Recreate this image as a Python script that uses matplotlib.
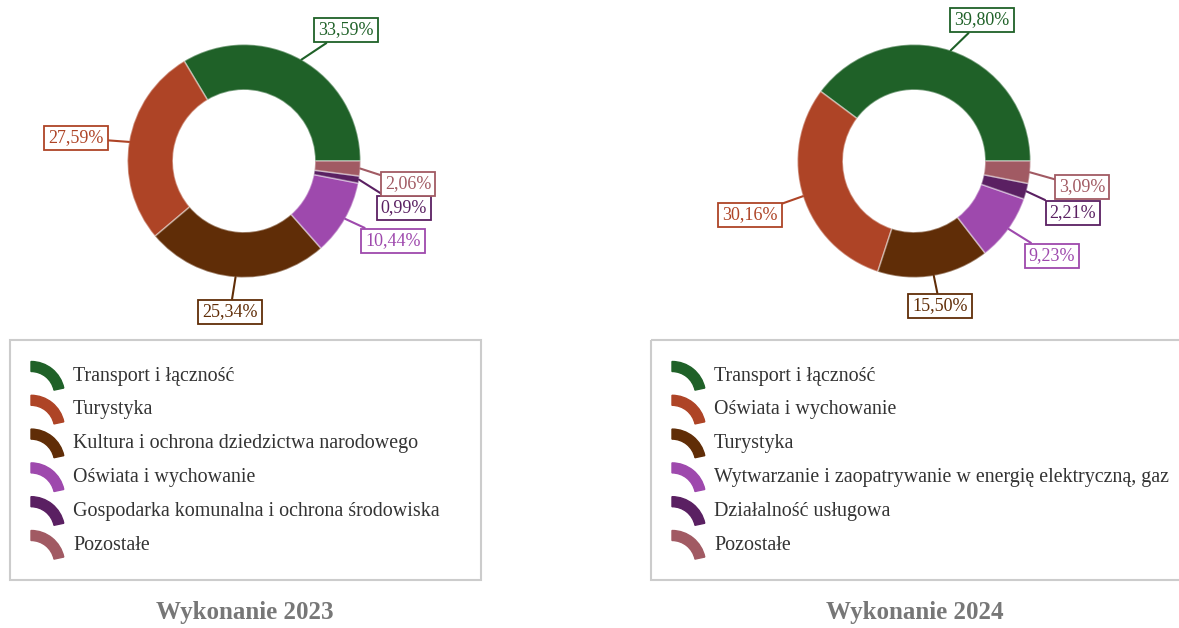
import numpy as np
import matplotlib
matplotlib.use("Agg")
import matplotlib.pyplot as plt
from matplotlib.patches import Wedge, Rectangle

plt.rcParams["font.family"] = ["Liberation Serif", "DejaVu Serif"]

W, H = 1179, 628

# data
labels_2023 = ["Transport i łączność", "Turystyka", "Kultura i ochrona dziedzictwa narodowego",
               "Oświata i wychowanie", "Gospodarka komunalna i ochrona środowiska", "Pozostałe"]
values_2023 = [33.59, 27.59, 25.34, 10.44, 0.99, 2.06]

labels_2024 = ["Transport i łączność", "Oświata i wychowanie", "Turystyka",
               "Wytwarzanie i zaopatrywanie w energię elektryczną, gaz", "Działalność usługowa", "Pozostałe"]
values_2024 = [39.80, 30.16, 15.50, 9.23, 2.21, 3.09]

colors = ["#1f6128", "#ae4426", "#602d07", "#9e49ad", "#5a2062", "#a15a63"]

# label box centres (pixels) for each slice
label_pos_2023 = [(346, 30), (76, 138), (230, 312), (393, 241), (404, 208), (408, 184)]
label_pos_2024 = [(982, 20), (750, 215), (940, 306), (1052, 256), (1073, 213), (1082, 187)]

fig = plt.figure(figsize=(W / 100, H / 100), dpi=100)

# overlay in pixel units for legends and titles
over = fig.add_axes([0, 0, 1, 1])
over.set_xlim(0, W)
over.set_ylim(H, 0)
over.axis("off")


def donut(cx, cy, r, values, label_pos):
    h = 170
    ax = fig.add_axes([(cx - h) / W, 1 - (cy + h) / H, 2 * h / W, 2 * h / H])
    wedges, _ = ax.pie(values, colors=colors, startangle=0, counterclock=True, radius=1,
                       wedgeprops=dict(width=0.39, edgecolor=(1, 1, 1, 0.4), linewidth=1.2))
    ax.set_xlim(-h / r, h / r)
    ax.set_ylim(-h / r, h / r)
    ax.set_aspect("equal")
    ax.axis("off")
    for w, v, c, (lx, ly) in zip(wedges, values, colors, label_pos):
        mid = np.deg2rad((w.theta1 + w.theta2) / 2)
        txt = f"{v:.2f}%".replace(".", ",")
        ax.annotate(txt, xy=(np.cos(mid), np.sin(mid)),
                    xytext=((lx - cx) / r, (cy - ly) / r),
                    ha="center", va="center", fontsize=13, color=c,
                    bbox=dict(boxstyle="square,pad=0.22", fc="white", ec=c, lw=1.3),
                    arrowprops=dict(arrowstyle="-", color=c, lw=1.5, shrinkA=0, shrinkB=0),
                    annotation_clip=False)


def legend(x0, x1, labels, title, title_x):
    over.add_patch(Rectangle((x0, 340), x1 - x0, 240, fill=False, ec="#cccccc", lw=1.5))
    tx = x0 + 63
    for i, (lab, c) in enumerate(zip(labels, colors)):
        y = 374 + i * 33.8
        over.add_patch(Wedge((tx - 42, y + 21), 33.5, -90, -12, width=10, color=c))
        over.text(tx, y + 2, lab, fontsize=14.4, color="#333333", va="center", ha="left")
    over.text(title_x, 612, title, fontsize=18, fontweight="bold", color="#777777",
              ha="center", va="center")


donut(244, 161, 116.5, values_2023, label_pos_2023)
donut(914, 161, 116.5, values_2024, label_pos_2024)

legend(10, 481, labels_2023, "Wykonanie 2023", 245)
legend(651, 1185, labels_2024, "Wykonanie 2024", 915)

fig.savefig("out.png", dpi=100)
